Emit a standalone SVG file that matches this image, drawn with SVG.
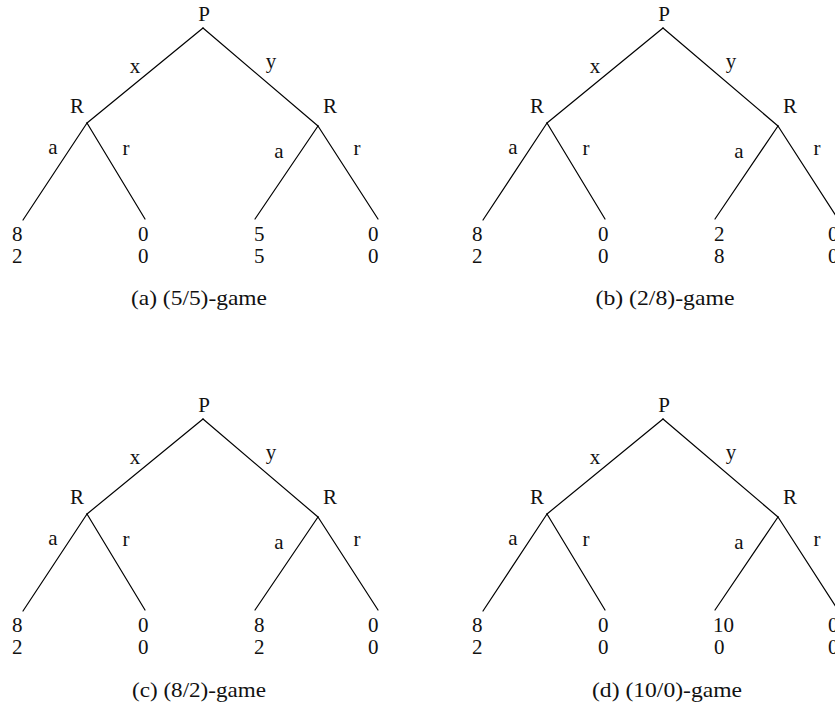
<svg xmlns="http://www.w3.org/2000/svg" width="835" height="709" viewBox="0 0 835 709">
  <style>
    .edge { stroke: #000; stroke-width: 1.2; fill: none; stroke-linecap: round; }
    text { font-family: "Liberation Serif", "Times New Roman", serif; font-size: 21px; fill: #111; }
    .mid { text-anchor: middle; }
    .cap { text-anchor: middle; }
  </style>

  <!-- (a) (5/5)-game -->
  <g id="game-a">
    <g id="edges-a">
      <line class="edge" x1="203" y1="28" x2="87" y2="123"/>
      <line class="edge" x1="203" y1="28" x2="318" y2="126"/>
      <line class="edge" x1="87" y1="123" x2="23" y2="220"/>
      <line class="edge" x1="87" y1="123" x2="145" y2="219"/>
      <line class="edge" x1="318" y1="126" x2="255" y2="219"/>
      <line class="edge" x1="318" y1="126" x2="378" y2="219"/>
      <text class="mid" x="135" y="73">x</text>
      <text class="mid" x="271" y="68">y</text>
      <text class="mid" x="53" y="154">a</text>
      <text class="mid" x="126" y="155">r</text>
      <text class="mid" x="279" y="158">a</text>
      <text class="mid" x="357" y="155">r</text>
    </g>
    <g id="a-P"><text class="mid" x="204" y="21">P</text></g>
    <g id="a-R1"><text class="mid" x="77" y="113">R</text></g>
    <g id="a-R2"><text class="mid" x="330" y="113">R</text></g>
    <g id="a-L1"><text x="12" y="241">8</text><text x="12" y="263">2</text></g>
    <g id="a-L2"><text x="138" y="241">0</text><text x="138" y="263">0</text></g>
    <g id="a-L3"><text x="254" y="241">5</text><text x="254" y="263">5</text></g>
    <g id="a-L4"><text x="368" y="241">0</text><text x="368" y="263">0</text></g>
    <text class="cap" x="199" y="305" textLength="136" lengthAdjust="spacingAndGlyphs">(a) (5/5)-game</text>
  </g>

  <!-- (b) (2/8)-game -->
  <g id="game-b" transform="translate(460,0)">
    <g id="edges-b">
      <line class="edge" x1="203" y1="28" x2="87" y2="123"/>
      <line class="edge" x1="203" y1="28" x2="318" y2="126"/>
      <line class="edge" x1="87" y1="123" x2="23" y2="220"/>
      <line class="edge" x1="87" y1="123" x2="145" y2="219"/>
      <line class="edge" x1="318" y1="126" x2="255" y2="219"/>
      <line class="edge" x1="318" y1="126" x2="378" y2="219"/>
      <text class="mid" x="135" y="73">x</text>
      <text class="mid" x="271" y="68">y</text>
      <text class="mid" x="53" y="154">a</text>
      <text class="mid" x="126" y="155">r</text>
      <text class="mid" x="279" y="158">a</text>
      <text class="mid" x="357" y="155">r</text>
    </g>
    <g id="b-P"><text class="mid" x="204" y="21">P</text></g>
    <g id="b-R1"><text class="mid" x="77" y="113">R</text></g>
    <g id="b-R2"><text class="mid" x="330" y="113">R</text></g>
    <g id="b-L1"><text x="12" y="241">8</text><text x="12" y="263">2</text></g>
    <g id="b-L2"><text x="138" y="241">0</text><text x="138" y="263">0</text></g>
    <g id="b-L3"><text x="254" y="241">2</text><text x="254" y="263">8</text></g>
    <g id="b-L4"><text x="368" y="241">0</text><text x="368" y="263">0</text></g>
    <text class="cap" x="205" y="305" textLength="139" lengthAdjust="spacingAndGlyphs">(b) (2/8)-game</text>
  </g>

  <!-- (c) (8/2)-game -->
  <g id="game-c" transform="translate(0,391)">
    <g id="edges-c">
      <line class="edge" x1="203" y1="28" x2="87" y2="123"/>
      <line class="edge" x1="203" y1="28" x2="318" y2="126"/>
      <line class="edge" x1="87" y1="123" x2="23" y2="220"/>
      <line class="edge" x1="87" y1="123" x2="145" y2="219"/>
      <line class="edge" x1="318" y1="126" x2="255" y2="219"/>
      <line class="edge" x1="318" y1="126" x2="378" y2="219"/>
      <text class="mid" x="135" y="73">x</text>
      <text class="mid" x="271" y="68">y</text>
      <text class="mid" x="53" y="154">a</text>
      <text class="mid" x="126" y="155">r</text>
      <text class="mid" x="279" y="158">a</text>
      <text class="mid" x="357" y="155">r</text>
    </g>
    <g id="c-P"><text class="mid" x="204" y="21">P</text></g>
    <g id="c-R1"><text class="mid" x="77" y="113">R</text></g>
    <g id="c-R2"><text class="mid" x="330" y="113">R</text></g>
    <g id="c-L1"><text x="12" y="241">8</text><text x="12" y="263">2</text></g>
    <g id="c-L2"><text x="138" y="241">0</text><text x="138" y="263">0</text></g>
    <g id="c-L3"><text x="254" y="241">8</text><text x="254" y="263">2</text></g>
    <g id="c-L4"><text x="368" y="241">0</text><text x="368" y="263">0</text></g>
    <text class="cap" x="199" y="306" textLength="134" lengthAdjust="spacingAndGlyphs">(c) (8/2)-game</text>
  </g>

  <!-- (d) (10/0)-game -->
  <g id="game-d" transform="translate(460,391)">
    <g id="edges-d">
      <line class="edge" x1="203" y1="28" x2="87" y2="123"/>
      <line class="edge" x1="203" y1="28" x2="318" y2="126"/>
      <line class="edge" x1="87" y1="123" x2="23" y2="220"/>
      <line class="edge" x1="87" y1="123" x2="145" y2="219"/>
      <line class="edge" x1="318" y1="126" x2="255" y2="219"/>
      <line class="edge" x1="318" y1="126" x2="378" y2="219"/>
      <text class="mid" x="135" y="73">x</text>
      <text class="mid" x="271" y="68">y</text>
      <text class="mid" x="53" y="154">a</text>
      <text class="mid" x="126" y="155">r</text>
      <text class="mid" x="279" y="158">a</text>
      <text class="mid" x="357" y="155">r</text>
    </g>
    <g id="d-P"><text class="mid" x="204" y="21">P</text></g>
    <g id="d-R1"><text class="mid" x="77" y="113">R</text></g>
    <g id="d-R2"><text class="mid" x="330" y="113">R</text></g>
    <g id="d-L1"><text x="12" y="241">8</text><text x="12" y="263">2</text></g>
    <g id="d-L2"><text x="138" y="241">0</text><text x="138" y="263">0</text></g>
    <g id="d-L3"><text x="253" y="241">10</text><text x="254" y="263">0</text></g>
    <g id="d-L4"><text x="368" y="241">0</text><text x="368" y="263">0</text></g>
    <text class="cap" x="207" y="306" textLength="150" lengthAdjust="spacingAndGlyphs">(d) (10/0)-game</text>
  </g>
</svg>
